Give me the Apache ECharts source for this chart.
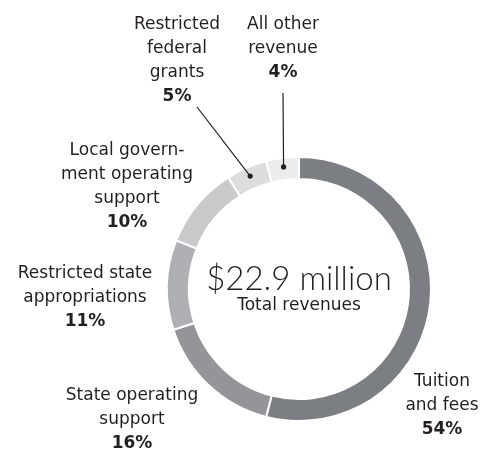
<!DOCTYPE html>
<html>
<head>
<meta charset="utf-8">
<script src="https://cdn.jsdelivr.net/npm/echarts@6/dist/echarts.min.js"></script>
<style>
  html, body { margin: 0; padding: 0; background: #fff; }
  #chart { width: 482px; height: 451px; }
</style>
</head>
<body>
<div id="chart"></div>
<script>
// revenue shares, clockwise from 12 o'clock
const categories = [
    'Tuition\nand fees',
    'State operating\nsupport',
    'Restricted state\nappropriations',
    'Local govern-\nment operating\nsupport',
    'Restricted\nfederal\ngrants',
    'All other\nrevenue'
];
const shares = [54, 16, 11, 10, 5, 4];
const totalText = '$22.9 million';
const totalCaption = 'Total revenues';

const sliceColors = ['#7b7e82', '#939598', '#aeb0b3', '#c7c9cb', '#dcdddf', '#ececee'];
const FONT = '"DejaVu Sans", "Noto Sans", sans-serif';
const CX = 299, CY = 289, R_IN = 110, R_OUT = 132;

// label anchor (centre of the text block) for each slice
const labelAnchors = [
    [442, 406], [132, 420], [85, 298], [127, 187], [177, 61], [283, 49]
];
// leader lines only for the two thin slices: start point near their label
const leaderStarts = { 4: [197, 107], 5: [283, 93] };

const chart = echarts.init(document.getElementById('chart'), null, { renderer: 'canvas' });

const total = shares.reduce((a, b) => a + b, 0);
const graphics = [];
let acc = 0;
shares.forEach((v, i) => {
    const mid = (acc + v / 2) / total * Math.PI * 2;
    acc += v;
    if (!leaderStarts[i]) return;
    const r = (R_IN + R_OUT) / 2 + 2;
    const dx = CX + r * Math.sin(mid), dy = CY - r * Math.cos(mid);
    const s = leaderStarts[i];
    graphics.push({
        type: 'line', z: 10,
        shape: { x1: s[0], y1: s[1], x2: dx, y2: dy },
        style: { stroke: '#231f20', lineWidth: 1.2 }
    });
    graphics.push({
        type: 'circle', z: 11,
        shape: { cx: dx, cy: dy, r: 2.6 },
        style: { fill: '#231f20' }
    });
});
graphics.push({
    type: 'text', z: 10, x: CX, y: 279,
    style: { text: totalText, font: '300 33px Lato, sans-serif', fill: '#231f20', align: 'center', verticalAlign: 'middle' }
});
graphics.push({
    type: 'text', z: 10, x: CX, y: 306,
    style: { text: totalCaption, font: '400 17px ' + FONT, fill: '#231f20', align: 'center', verticalAlign: 'middle' }
});

const option = {
    backgroundColor: '#fff',
    animation: false,
    graphic: graphics,
    series: [{
        type: 'pie',
        center: [CX, CY],
        radius: [R_IN, R_OUT],
        startAngle: 90,
        clockwise: true,
        silent: true,
        avoidLabelOverlap: false,
        itemStyle: { borderColor: '#fff', borderWidth: 2 },
        label: {
            show: true,
            position: 'outside',
            overflow: 'none',
            width: 200,
            formatter: p => '{n|' + p.name + '}\n{p|' + p.value + '%}',
            rich: {
                n: { fontFamily: FONT, fontSize: 17, fontWeight: 400, color: '#231f20', lineHeight: 24, align: 'center' },
                p: { fontFamily: FONT, fontSize: 17, fontWeight: 700, color: '#231f20', lineHeight: 24, align: 'center' }
            }
        },
        labelLine: { show: false },
        labelLayout: params => {
            const a = labelAnchors[params.dataIndex];
            return { x: a[0], y: a[1], align: 'center', verticalAlign: 'middle', hideOverlap: false };
        },
        data: categories.map((c, i) => ({
            name: c,
            value: shares[i],
            itemStyle: { color: sliceColors[i] }
        }))
    }]
};

chart.setOption(option);
</script>
</body>
</html>
